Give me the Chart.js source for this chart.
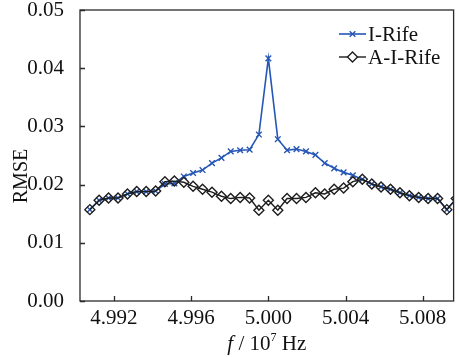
<!DOCTYPE html>
<html>
<head>
<meta charset="utf-8">
<script src="https://cdn.jsdelivr.net/npm/chart.js@4/dist/chart.umd.min.js"></script>
<style>
  html, body { margin: 0; padding: 0; background: #fff; }
  canvas { display: block; }
</style>
</head>
<body>
<canvas id="c" width="460" height="357"></canvas>
<script>
// frequency in units of 10^7 Hz
const freq = [4.99075, 4.99123, 4.99172, 4.99221, 4.99270, 4.99318, 4.99367, 4.99416, 4.99464, 4.99513,
              4.99562, 4.99610, 4.99659, 4.99708, 4.99757, 4.99805, 4.99854, 4.99903, 4.99951, 5.00000,
              5.00049, 5.00097, 5.00146, 5.00195, 5.00244, 5.00292, 5.00341, 5.00390, 5.00438, 5.00487,
              5.00536, 5.00584, 5.00633, 5.00682, 5.00731, 5.00779, 5.00828, 5.00877, 5.00925, 5.00974];

const iRife = [0.0157, 0.0173, 0.0177, 0.0177, 0.0184, 0.0188, 0.0188, 0.0189, 0.0201, 0.0202,
               0.0214, 0.0220, 0.0225, 0.0237, 0.0246, 0.0257, 0.0259, 0.0260, 0.0286, 0.0417,
               0.0278, 0.0259, 0.0261, 0.0257, 0.0251, 0.0237, 0.0228, 0.0221, 0.0216, 0.0209,
               0.0201, 0.0196, 0.0192, 0.0186, 0.0181, 0.0178, 0.0176, 0.0176, 0.0157, 0.0176];

const aiRife = [0.0157, 0.0173, 0.0177, 0.0177, 0.0184, 0.0188, 0.0188, 0.0189, 0.0205, 0.0206,
                0.0204, 0.0197, 0.0192, 0.0187, 0.0180, 0.0176, 0.0178, 0.0177, 0.0156, 0.0173,
                0.0156, 0.0176, 0.0176, 0.0178, 0.0186, 0.0184, 0.0192, 0.0194, 0.0205, 0.0209,
                0.0201, 0.0196, 0.0192, 0.0186, 0.0181, 0.0178, 0.0176, 0.0176, 0.0157, 0.0176];

const xTicks = [4.992, 4.996, 5.000, 5.004, 5.008];
const yTicks = [0.00, 0.01, 0.02, 0.03, 0.04, 0.05];

const FONT = "'Liberation Serif', 'Times New Roman', serif";
const BLUE = '#2656b6';
const BLACK = '#1e1e1e';

// frame, inward ticks, axis titles and the line+marker legend
const decorations = {
  id: 'decorations',
  afterDraw(chart) {
    const {ctx, chartArea: a, scales: {x, y}} = chart;
    ctx.save();
    ctx.strokeStyle = '#2a2a2a';
    ctx.lineWidth = 1.3;
    ctx.strokeRect(a.left, a.top, a.right - a.left, a.bottom - a.top);
    ctx.beginPath();
    x.ticks.forEach(t => {
      const px = Math.round(x.getPixelForValue(t.value)) + 0.5;
      ctx.moveTo(px, a.bottom); ctx.lineTo(px, a.bottom - 5);
    });
    y.ticks.forEach(t => {
      const py = Math.round(y.getPixelForValue(t.value)) + 0.5;
      ctx.moveTo(a.left, py); ctx.lineTo(a.left + 5, py);
    });
    ctx.stroke();

    // x title: f / 10^7 Hz
    ctx.fillStyle = '#111';
    ctx.textBaseline = 'alphabetic';
    const parts = [
      {t: 'f', f: 'italic 21px ' + FONT, dy: 0},
      {t: ' / 10', f: '21px ' + FONT, dy: 0},
      {t: '7', f: '12px ' + FONT, dy: -9},
      {t: ' Hz', f: '21px ' + FONT, dy: 0}
    ];
    let w = 0;
    parts.forEach(p => { ctx.font = p.f; w += ctx.measureText(p.t).width; });
    let cx = (a.left + a.right) / 2 - w / 2;
    parts.forEach(p => {
      ctx.font = p.f;
      ctx.textAlign = 'left';
      ctx.fillText(p.t, cx, 350 + p.dy);
      cx += ctx.measureText(p.t).width;
    });

    // y title
    ctx.save();
    ctx.translate(22, 176);
    ctx.rotate(-Math.PI / 2);
    ctx.font = '20px ' + FONT;
    ctx.textAlign = 'center';
    ctx.textBaseline = 'middle';
    ctx.fillText('RMSE', 0, 0);
    ctx.restore();

    // legend
    chart.data.datasets.forEach((ds, i) => {
      const ly = 34 + i * 23;
      ctx.strokeStyle = ds.borderColor;
      ctx.lineWidth = ds.borderWidth;
      ctx.beginPath();
      ctx.moveTo(339, ly); ctx.lineTo(366, ly);
      ctx.stroke();
      ctx.fillStyle = '#fff';
      ctx.lineWidth = ds.pointBorderWidth;
      Chart.helpers.drawPoint(ctx, {
        pointStyle: ds.pointStyle, radius: ds.pointRadius, rotation: 0,
        borderWidth: ds.pointBorderWidth
      }, 352.5, ly);
      ctx.fillStyle = '#111';
      ctx.font = '21px ' + FONT;
      ctx.textAlign = 'left';
      ctx.textBaseline = 'middle';
      ctx.fillText(ds.label, 368, ly + 1);
    });
    ctx.restore();
  }
};

new Chart(document.getElementById('c'), {
  type: 'line',
  data: {
    datasets: [
      {
        label: 'I-Rife',
        data: freq.map((f, i) => ({x: f, y: iRife[i]})),
        borderColor: BLUE,
        backgroundColor: BLUE,
        borderWidth: 1.6,
        pointStyle: 'crossRot',
        pointRadius: 4,
        pointBorderWidth: 1.4,
        pointBorderColor: BLUE,
        order: 2
      },
      {
        label: 'A-I-Rife',
        data: freq.map((f, i) => ({x: f, y: aiRife[i]})),
        borderColor: BLACK,
        backgroundColor: 'rgba(255,255,255,0)',
        borderWidth: 1.4,
        pointStyle: 'rectRot',
        pointRadius: 5,
        pointBorderWidth: 1.4,
        pointBorderColor: BLACK,
        pointBackgroundColor: 'rgba(255,255,255,0)',
        order: 1
      }
    ]
  },
  options: {
    responsive: false,
    animation: false,
    devicePixelRatio: 1,
    layout: {padding: {left: 0, right: 6, top: 10, bottom: 0}},
    plugins: {
      legend: {display: false},
      tooltip: {enabled: false}
    },
    scales: {
      x: {
        type: 'linear',
        min: 4.99024,
        max: 5.0096,
        grid: {display: false},
        border: {display: false},
        afterBuildTicks: s => { s.ticks = xTicks.map(v => ({value: v})); },
        afterFit: s => { s.height = 56; s.paddingLeft = 0; s.paddingRight = 0; },
        ticks: {
          color: '#111',
          padding: -3,
          maxRotation: 0,
          font: {family: FONT, size: 21},
          callback: v => v.toFixed(3)
        }
      },
      y: {
        min: 0,
        max: 0.05,
        grid: {display: false},
        border: {display: false},
        afterBuildTicks: s => { s.ticks = yTicks.map(v => ({value: v})); },
        afterFit: s => { s.width = 80; s.paddingTop = 0; s.paddingBottom = 0; },
        ticks: {
          color: '#111',
          padding: 8,
          font: {family: FONT, size: 21},
          callback: v => v.toFixed(2)
        }
      }
    }
  },
  plugins: [decorations]
});
</script>
</body>
</html>
